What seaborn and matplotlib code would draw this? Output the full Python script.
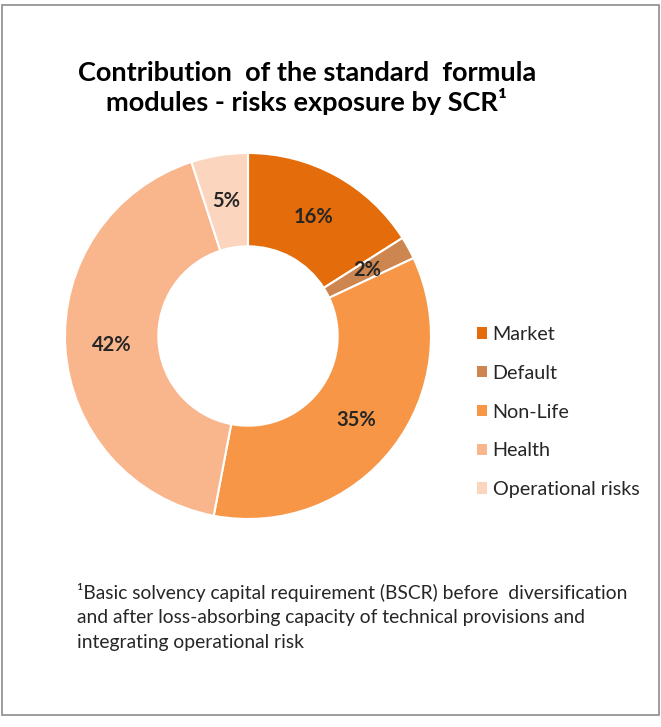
import matplotlib
matplotlib.use('Agg')
import matplotlib.pyplot as plt
import seaborn as sns
from matplotlib.patches import Patch, Rectangle

# risk modules and their share of the SCR (%)
modules = ['Market', 'Default', 'Non-Life', 'Health', 'Operational risks']
shares = [16, 2, 35, 42, 5]
colours = ['#E46C0A', '#CD8650', '#F79646', '#F9B68D', '#FCD5BF']

title = 'Contribution  of the standard  formula\nmodules - risks exposure by SCR\u00b9'
footnote = ('\u00b9Basic solvency capital requirement (BSCR) before  diversification\n'
            'and after loss-absorbing capacity of technical provisions and\n'
            'integrating operational risk')

sns.set_theme(style='white')
plt.rcParams['font.family'] = ['Lato', 'DejaVu Sans']

fig = plt.figure(figsize=(6.61, 7.27), dpi=100)
fig.patch.set_facecolor('white')

# frame round the whole chart
fig.add_artist(Rectangle((2/661, 12/727), 657/661, 710/727, transform=fig.transFigure,
                         fill=False, edgecolor='#8c8c8c', linewidth=1.2))

ax = fig.add_axes([65/661, (727-519)/727, 366/661, 366/727])
wedges, _, pct = ax.pie(shares, colors=colours, startangle=90, counterclock=False,
                        autopct='%.0f%%', pctdistance=0.745,
                        wedgeprops=dict(width=0.51, edgecolor='white', linewidth=1.5),
                        textprops=dict(fontsize=14.5, fontweight='bold', color='#262626'))
ax.set_xlim(-1, 1)
ax.set_ylim(-1, 1)
ax.set_aspect('auto')
ax.axis('off')

fig.text(307/661, 1 - 88/727, title, ha='center', va='center', fontsize=19.5,
         fontweight='bold', color='black', linespacing=1.15)

handles = [Patch(facecolor=c, edgecolor='none') for c in colours]
fig.legend(handles, modules, loc='center left', bbox_to_anchor=(463/661, 1 - 412/727),
           frameon=False, fontsize=14.2, labelcolor='#262626', handlelength=0.5,
           handleheight=0.5, handletextpad=0.3, labelspacing=1.1, borderpad=0.2)

fig.text(77/661, 1 - 617/727, footnote, ha='left', va='center', fontsize=13.9,
         color='#262626', linespacing=1.55)

fig.savefig('out.png', dpi=100)
